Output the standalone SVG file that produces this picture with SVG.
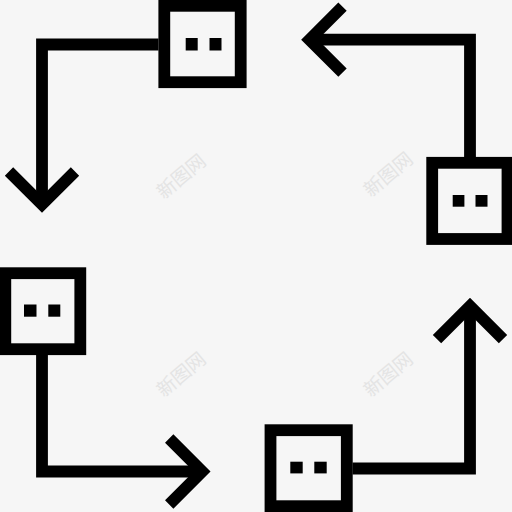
<svg xmlns="http://www.w3.org/2000/svg" width="512" height="512" viewBox="0 0 512 512">
<style>
.bg{fill:#f6f6f6}
.box{fill:none;stroke:#000;stroke-width:11.8;stroke-linejoin:miter}
.dot{fill:#000}
.ln{fill:none;stroke:#000;stroke-width:11.8;stroke-linejoin:miter;stroke-linecap:butt;stroke-miterlimit:10}
.wm{font-family:"Noto Sans CJK SC","Noto Sans CJK JP",sans-serif;font-size:19px;fill:#e4e4e4;text-anchor:middle;dominant-baseline:central}
</style>
<rect class="bg" x="0" y="0" width="512" height="512"/>
<g id="watermarks">
<text class="wm" transform="translate(180,175) rotate(-40)">新图网</text>
<text class="wm" transform="translate(387,173) rotate(-40)">新图网</text>
<text class="wm" transform="translate(180,373) rotate(-40)">新图网</text>
<text class="wm" transform="translate(387,373) rotate(-40)">新图网</text>
</g>
<g id="connectors">
<path class="ln" d="M158.5,44.5 H42 V204.5"/>
<path class="ln" d="M9,171.5 L42,204.5 L75,171.5"/>
<path class="ln" d="M470,157.5 V39.7 H309.5"/>
<path class="ln" d="M342.5,6.7 L309.5,39.7 L342.5,72.7"/>
<path class="ln" d="M42,355 V471.5 H202.2"/>
<path class="ln" d="M169.2,438.5 L202.2,471.5 L169.2,504.5"/>
<path class="ln" d="M352.5,468.5 H470 V306.2"/>
<path class="ln" d="M437,339.2 L470,306.2 L503,339.2"/>
</g>
<g id="node-top">
<rect class="box" x="164.3" y="5.8" width="76.4" height="76.4"/>
<rect class="dot" x="185.7" y="38" width="12" height="12.5"/>
<rect class="dot" x="209.5" y="38" width="12" height="12.5"/>
</g>
<g id="node-right">
<rect class="box" x="432.2" y="162.8" width="75.3" height="76.2"/>
<rect class="dot" x="452.7" y="195" width="11.7" height="11.7"/>
<rect class="dot" x="475.5" y="195" width="12" height="11.7"/>
</g>
<g id="node-left">
<rect class="box" x="5.3" y="273.2" width="75" height="76"/>
<rect class="dot" x="24" y="304.5" width="12.5" height="12.2"/>
<rect class="dot" x="48.3" y="304.5" width="12" height="12.2"/>
</g>
<g id="node-bottom">
<rect class="box" x="270.5" y="430.2" width="76.3" height="76"/>
<rect class="dot" x="290.3" y="461.7" width="12.4" height="11.7"/>
<rect class="dot" x="314.3" y="461.7" width="12.4" height="11.7"/>
</g>
</svg>
